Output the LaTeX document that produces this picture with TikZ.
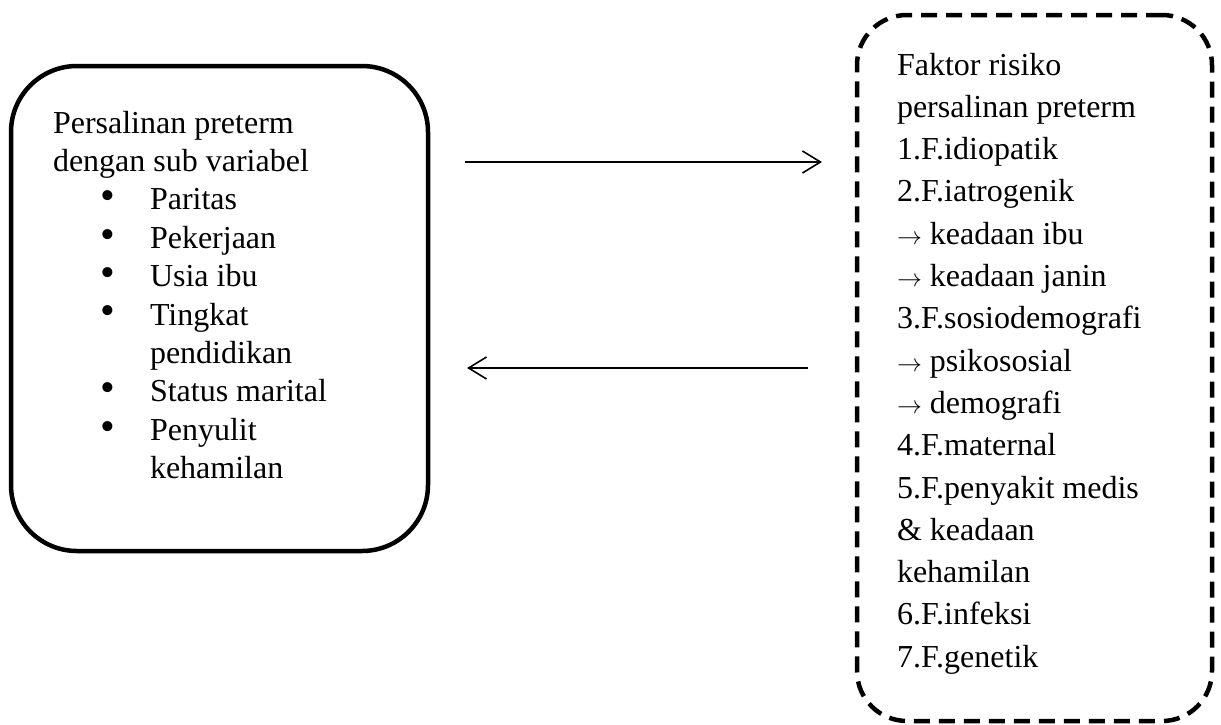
\documentclass[tikz,border=0pt]{standalone}
\usepackage{fontspec}
\setmainfont{Liberation Serif}
\usetikzlibrary{arrows.meta}
\begin{document}
\begin{tikzpicture}[x=1pt,y=1pt,
  txt/.style={anchor=base west,inner sep=0pt,outer sep=0pt,font=\fontsize{32}{38}\selectfont},
  bul/.style={anchor=center,inner sep=0pt,outer sep=0pt,font=\fontsize{42}{42}\selectfont},
  solidbox/.style={draw,line width=4.5pt,rounded corners=66pt,inner sep=0pt,outer sep=0pt},
  dashbox/.style={draw,line width=4.5pt,rounded corners=50pt,dash pattern=on 16pt off 9pt,inner sep=0pt,outer sep=0pt},
  arr/.style={line width=1.6pt,-{Straight Barb[length=18pt,width=22pt,line width=1.6pt]}}
]
\useasboundingbox (0,0) rectangle (1221,-724);
% boxes
\node[solidbox,minimum width=417pt,minimum height=485pt] (L) at (219.5,-308.5) {};
\node[dashbox,minimum width=355pt,minimum height=706pt] (R) at (1034.5,-368) {};
% left text
\node[txt] (l0) at (53,-133) {Persalinan preterm};
\node[txt] (l1) at (53,-171.4) {dengan sub variabel};
\node[txt] (l2) at (150,-209.8) {Paritas};
\node[txt] (l3) at (150,-248.2) {Pekerjaan};
\node[txt] (l4) at (150,-286.6) {Usia ibu};
\node[txt] (l5) at (150,-325) {Tingkat};
\node[txt] (l6) at (150,-363.4) {pendidikan};
\node[txt] (l7) at (150,-401.8) {Status marital};
\node[txt] (l8) at (150,-440.2) {Penyulit};
\node[txt] (l9) at (150,-478.6) {kehamilan};
\node[bul] (b2) at (108,-200.3) {•};
\node[bul] (b3) at (108,-238.7) {•};
\node[bul] (b4) at (108,-277.1) {•};
\node[bul] (b5) at (108,-315.5) {•};
\node[bul] (b7) at (108,-392.3) {•};
\node[bul] (b8) at (108,-430.7) {•};
% right text
\node[txt] (r0) at (897,-75) {Faktor risiko};
\node[txt] (r1) at (897,-117.3) {persalinan preterm};
\node[txt] (r2) at (897,-159.6) {1.F.idiopatik};
\node[txt] (r3) at (897,-201.9) {2.F.iatrogenik};
\node[txt] (r4) at (897,-244.2) {$\rightarrow$ keadaan ibu};
\node[txt] (r5) at (897,-286.5) {$\rightarrow$ keadaan janin};
\node[txt] (r6) at (897,-328.8) {3.F.sosiodemografi};
\node[txt] (r7) at (897,-371.1) {$\rightarrow$ psikososial};
\node[txt] (r8) at (897,-413.4) {$\rightarrow$ demografi};
\node[txt] (r9) at (897,-455.7) {4.F.maternal};
\node[txt] (r10) at (897,-498) {5.F.penyakit medis};
\node[txt] (r11) at (897,-540.3) {\& keadaan};
\node[txt] (r12) at (897,-582.6) {kehamilan};
\node[txt] (r13) at (897,-624.9) {6.F.infeksi};
\node[txt] (r14) at (897,-667.2) {7.F.genetik};
% connectors
\coordinate (Y1) at (0,-162);
\coordinate (Y2) at (0,-368);
\draw[arr,shorten <=37pt,shorten >=35pt] (L.east |- Y1) -- (R.west |- Y1);
\draw[arr,shorten <=49pt,shorten >=39pt] (R.west |- Y2) -- (L.east |- Y2);
\end{tikzpicture}
\end{document}
